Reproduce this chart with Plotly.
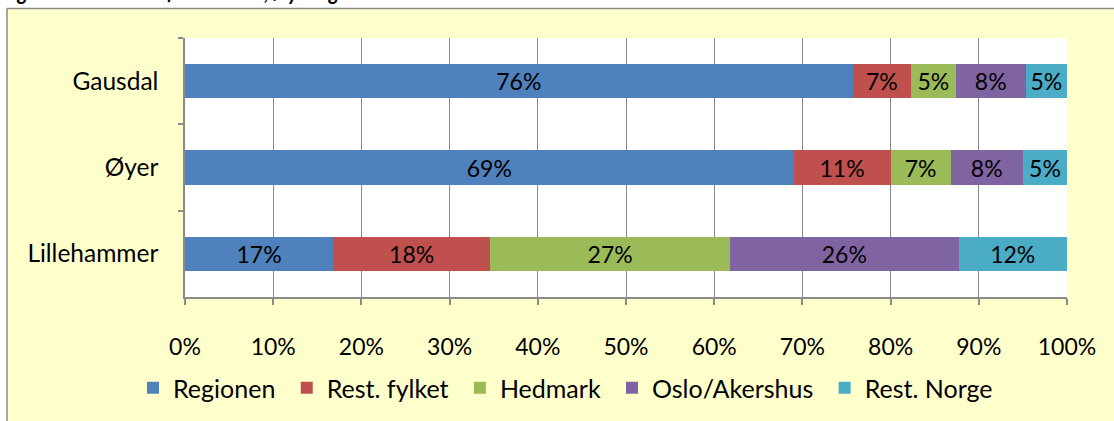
import plotly.graph_objects as go

places = ["Gausdal", "Øyer", "Lillehammer"]
series = ["Regionen", "Rest. fylket", "Hedmark", "Oslo/Akershus", "Rest. Norge"]
regionen = [0.757, 0.690, 0.168]
rest_fylket = [0.066, 0.110, 0.178]
hedmark = [0.051, 0.068, 0.272]
oslo_akershus = [0.079, 0.082, 0.259]
rest_norge = [0.047, 0.050, 0.123]
colors = ["#4F81BD", "#C0504D", "#9BBB59", "#8064A2", "#4BACC6"]
x_ticks = [0, 0.1, 0.2, 0.3, 0.4, 0.5, 0.6, 0.7, 0.8, 0.9, 1.0]
x_tick_labels = ["0%", "10%", "20%", "30%", "40%", "50%", "60%", "70%", "80%", "90%", "100%"]
title_text = "Figur 1-4: Pendlere fra Gausdal, Øyer og Lillehammer etter arbeidssted. 2013"

FONT = "Lato"
values = [regionen, rest_fylket, hedmark, oslo_akershus, rest_norge]
PAD = "\u00a0"

fig = go.Figure()
for name, vals, col in zip(series, values, colors):
    fig.add_trace(go.Bar(
        y=places, x=vals, name=name + PAD, orientation="h",
        marker=dict(color=col, line=dict(width=0)),
        texttemplate="%{x:.0%}", textposition="inside",
        insidetextanchor="middle", textangle=0,
        textfont=dict(family=FONT, size=23, color="#000000"),
        hoverinfo="skip",
    ))

W, H = 1114, 421
L, R, T, B = 185, 47, 38, 123
pw, ph = W - L - R, H - T - B

def px_x(p):
    return (p - L) / pw

def px_y(p):
    return (H - B - p) / ph

BORDER = "#8A8A8A"
fig.add_shape(type="rect", xref="paper", yref="paper",
              x0=px_x(7), x1=px_x(W + 5), y0=px_y(H + 5), y1=px_y(8.5),
              fillcolor="#FFFFCC", line=dict(width=0), layer="below")
fig.add_shape(type="line", xref="paper", yref="paper",
              x0=px_x(7), x1=px_x(W + 5), y0=px_y(8.5), y1=px_y(8.5),
              line=dict(color=BORDER, width=1.5), layer="below")
fig.add_shape(type="line", xref="paper", yref="paper",
              x0=px_x(7), x1=px_x(7), y0=px_y(8.5), y1=px_y(H + 5),
              line=dict(color=BORDER, width=1.5), layer="below")
fig.add_shape(type="rect", xref="paper", yref="paper",
              x0=0, x1=1, y0=0, y1=1,
              fillcolor="#FFFFFF", line=dict(width=0), layer="below")

fig.add_annotation(text="<b><i>" + title_text + "</i></b>", xref="paper", yref="paper",
                   x=px_x(0), y=px_y(6), xanchor="left", yanchor="bottom",
                   showarrow=False, font=dict(family=FONT, size=20, color="#000000"))

fig.update_layout(
    width=W, height=H,
    barmode="stack", bargap=0.6,
    paper_bgcolor="#FFFFFF", plot_bgcolor="#FFFFFF",
    margin=dict(l=L, r=R, t=T, b=B),
    font=dict(family=FONT, size=24, color="#000000"),
    showlegend=True,
    legend=dict(orientation="h", x=px_x(133), xanchor="left", y=px_y(388), yanchor="middle",
                bgcolor="rgba(0,0,0,0)", font=dict(family=FONT, size=25, color="#000000"),
                traceorder="normal"),
)
fig.update_xaxes(range=[0, 1], tickvals=x_ticks, ticktext=x_tick_labels,
                 tickfont=dict(family=FONT, size=23),
                 showgrid=True, gridcolor=BORDER, gridwidth=1,
                 showline=True, linecolor=BORDER, linewidth=1.5,
                 ticks="outside", ticklen=6, tickcolor=BORDER, tickwidth=1.5,
                 ticklabelstandoff=23, zeroline=False, fixedrange=True)
fig.update_yaxes(categoryorder="array", categoryarray=places, autorange="reversed",
                 tickfont=dict(family=FONT, size=24.5),
                 showgrid=False, showline=True, linecolor=BORDER, linewidth=1.5,
                 ticks="outside", ticklen=5, tickcolor=BORDER, tickwidth=1.5,
                 tickson="boundaries", ticklabelstandoff=20, fixedrange=True)

fig.write_html("out.html", config={"displayModeBar": False},
               post_script=("document.documentElement.style.overflow='hidden';"
                            "document.body.style.margin='0';document.body.style.overflow='hidden';"
                            "document.body.style.background='#FFFFCC';"))
